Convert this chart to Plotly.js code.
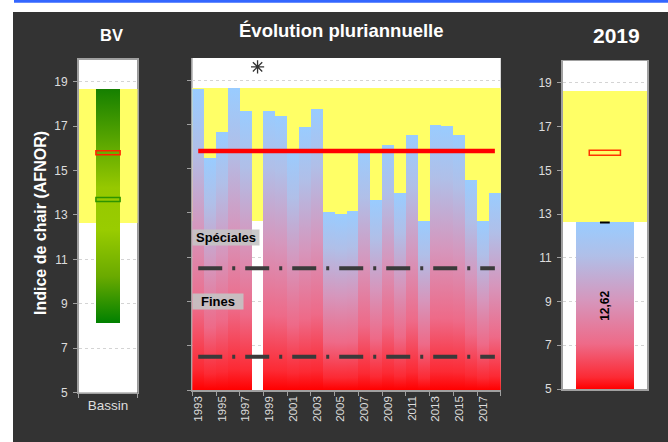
<!DOCTYPE html>
<html><head><meta charset="utf-8">
<script src="https://cdn.plot.ly/plotly-3.0.1.min.js"></script>
<style>html,body{margin:0;padding:0;background:#fff;}#chart{width:668px;height:442px;}</style>
</head><body><div id="chart"></div>
<script>
// ---- data ----
const years = ['1993','1994','1995','1996','1997','1998','1999','2000','2001','2002','2003','2004','2005','2006','2007','2008','2009','2010','2011','2012','2013','2014','2015','2016','2017','2018'];
const indexValues = [18.60,15.48,16.65,18.64,17.60,null,17.60,17.38,15.88,16.88,17.69,13.04,12.95,13.08,15.88,13.58,16.07,13.90,16.52,12.63,16.97,16.92,16.52,14.49,12.63,13.90];
const missingYears = ['1998'];
const missingMarkerValues = [19.6];
const meanValue = 15.8;
const thresholdValues = [10.5, 6.5];
const thresholdLabels = ['Spéciales', 'Fines'];
const thresholdLabelValues = [11.87, 9.0];
const bandRange = [12.62, 18.65];
const basinCategory = ['Bassin'];
const basinMin = [8.13];
const basinMax = [18.65];
const basinRef = [13.7];
const currentCategory = ['2019'];
const currentValue = [12.62];
const yTicks = [5,7,9,11,13,15,17,19];
const yFloor = 5;
const titles = {bv:'BV', evo:'Évolution pluriannuelle', cur:'2019', y:'Indice de chair (AFNOR)'};

// ---- helpers ----
const W = 668, H = 442;
const px = v => v / W;
const py = v => (H - v) / H;
const FONT = 'Liberation Sans, Arial, Helvetica, sans-serif';
const axisGray = '#a0a0a0';
const tickFont = {family: FONT, size: 12, color: '#dddddd'};
const bandColor = '#ffff66';

const bandBar = (cats, xa, ya) => ({type:'bar', x: cats, base: cats.map(()=>bandRange[0]),
  y: cats.map(()=>bandRange[1]-bandRange[0]), width:1, marker:{color:bandColor, line:{width:0}},
  xaxis:xa, yaxis:ya, hoverinfo:'skip'});

const data = [
  // yellow bands
  bandBar(basinCategory, 'x', 'y'),
  bandBar(years, 'x2', 'y2'),
  bandBar(currentCategory, 'x3', 'y3'),
  // BV range bar
  {type:'bar', x: basinCategory, base: basinMin, y: basinMax.map((v,i)=>v-basinMin[i]), width:0.41,
   marker:{color:'rgb(122,184,1)', line:{width:0}}, xaxis:'x', yaxis:'y', meta:'gradG', hoverinfo:'skip'},
  // BV mean rect
  {type:'bar', x: basinCategory, base:[meanValue-0.09], y:[0.18], width:0.41,
   marker:{color:'rgba(0,0,0,0)', line:{color:'#ff2200', width:1.5}}, xaxis:'x', yaxis:'y', hoverinfo:'skip'},
  // BV reference rect
  {type:'bar', x: basinCategory, base: basinRef.map(v=>v-0.09), y:[0.18], width:0.41,
   marker:{color:'rgba(0,0,0,0)', line:{color:'#2e9400', width:1.5}}, xaxis:'x', yaxis:'y', hoverinfo:'skip'},
  // yearly bars
  {type:'bar', x: years, base: yFloor, y: indexValues.map(v => v==null ? null : v - yFloor), width:1,
   marker:{color:'rgb(153,204,254)', line:{width:0}}, xaxis:'x2', yaxis:'y2', meta:'gradRB', hoverinfo:'skip'},
  // threshold lines
  ...thresholdValues.map(t => ({type:'scatter', mode:'lines', x:[years[0], years[years.length-1]], y:[t,t],
   line:{color:'#3a3a3a', width:4, dash:'24px,10px,3px,10px'}, xaxis:'x2', yaxis:'y2', hoverinfo:'skip'})),
  // mean line
  {type:'scatter', mode:'lines', x:[years[0], years[years.length-1]], y:[meanValue, meanValue],
   line:{color:'#ff0000', width:4.5}, xaxis:'x2', yaxis:'y2', hoverinfo:'skip'},
  // missing year marker
  {type:'scatter', mode:'markers', x: missingYears, y: missingMarkerValues,
   marker:{symbol:'asterisk-open', size:11, color:'#333333', line:{color:'#333333', width:1.3}}, xaxis:'x2', yaxis:'y2', hoverinfo:'skip'},
  // current bar
  {type:'bar', x: currentCategory, base: yFloor, y: currentValue.map(v=>v-yFloor), width:0.69,
   text: currentValue.map(v=>v.toFixed(2).replace('.', ',')), textposition:'inside', insidetextanchor:'middle',
   textangle:-90, constraintext:'none', textfont:{family:FONT, size:12, color:'#000000', weight:'bold'},
   marker:{color:'rgb(153,204,253)', line:{width:0}}, xaxis:'x3', yaxis:'y3', meta:'gradRB', hoverinfo:'skip'},
  // current value tick
  {type:'scatter', mode:'markers', x: currentCategory, y: currentValue,
   marker:{symbol:'line-ew', size:7, line:{color:'#000000', width:2}}, xaxis:'x3', yaxis:'y3', hoverinfo:'skip'},
  // current mean rect
  {type:'bar', x: currentCategory, base:[meanValue-0.115], y:[0.23], width:0.37,
   marker:{color:'rgba(0,0,0,0)', line:{color:'#ff3300', width:1.5}}, xaxis:'x3', yaxis:'y3', hoverinfo:'skip'}
];

const yCommon = {range:[5,20], tickvals:yTicks, ticks:'outside', ticklen:4, tickcolor:axisGray, tickwidth:1,
  showline:true, linecolor:axisGray, linewidth:1.5, showgrid:true, gridcolor:'#d4d4d4', griddash:'dot', gridwidth:1,
  zeroline:false, tickfont:tickFont, ticklabelstandoff:3, fixedrange:true};

const layout = {
  width:W, height:H, margin:{l:0,r:0,t:0,b:0}, paper_bgcolor:'#333333', plot_bgcolor:'#ffffff',
  showlegend:false, barmode:'overlay', bargap:0, font:{family:FONT, color:'#dddddd'},
  xaxis:{domain:[px(78.5), px(137.5)], type:'category', range:[-0.5,0.5], tickson:'boundaries', ticks:'outside', ticklen:4,
    tickcolor:axisGray, showline:true, linecolor:axisGray, linewidth:1.5, mirror:true, showgrid:false,
    tickfont:{family:FONT, size:13.5, color:'#dddddd'}, anchor:'y', fixedrange:true},
  yaxis:Object.assign({}, yCommon, {domain:[py(392.7), py(59.5)], anchor:'x', mirror:true}),
  xaxis2:{domain:[px(192.3), px(500.8)], type:'category', range:[-0.5,25.5], tickson:'boundaries', tickmode:'linear', tick0:0, dtick:2,
    ticks:'outside', ticklen:4, tickcolor:axisGray, tickangle:-90, showline:true, linecolor:axisGray, linewidth:1.5, showgrid:false,
    tickfont:{family:FONT, size:11.5, color:'#dddddd'}, anchor:'y2', fixedrange:true},
  yaxis2:Object.assign({}, yCommon, {domain:[py(390), py(58)], anchor:'x2', showticklabels:false}),
  xaxis3:{domain:[px(562.7), px(647)], type:'category', range:[-0.5,0.5], showticklabels:false, ticks:'',
    showline:true, linecolor:axisGray, linewidth:1.5, mirror:true, showgrid:false, anchor:'y3', fixedrange:true},
  yaxis3:Object.assign({}, yCommon, {domain:[py(389), py(61)], anchor:'x3', mirror:true}),
  shapes:[
    {type:'rect', xref:'paper', yref:'paper', x0:0, x1:px(13), y0:0, y1:1, fillcolor:'#ffffff', line:{width:0}},
    {type:'rect', xref:'paper', yref:'paper', x0:0, x1:1, y0:py(12), y1:1, fillcolor:'#ffffff', line:{width:0}},
    {type:'rect', xref:'paper', yref:'paper', x0:px(14), x1:1, y0:py(2.7), y1:1, fillcolor:'#3366ff', line:{width:0}}
  ],
  annotations:[
    {xref:'paper', yref:'paper', x:px(111), y:py(35), text:titles.bv, showarrow:false, xanchor:'center', yanchor:'middle',
     font:{family:FONT, size:16.5, color:'#ffffff', weight:'bold'}},
    {xref:'paper', yref:'paper', x:px(341), y:py(31), text:titles.evo, showarrow:false, xanchor:'center', yanchor:'middle',
     font:{family:FONT, size:18.5, color:'#ffffff', weight:'bold'}},
    {xref:'paper', yref:'paper', x:px(616), y:py(35), text:titles.cur, showarrow:false, xanchor:'center', yanchor:'middle',
     font:{family:FONT, size:21, color:'#ffffff', weight:'bold'}},
    {xref:'paper', yref:'paper', x:px(40), y:py(223), text:titles.y, showarrow:false, xanchor:'center', yanchor:'middle', textangle:-90,
     font:{family:FONT, size:16, color:'#ffffff', weight:'bold'}},
    {xref:'paper', yref:'y2', x:px(192.3), y:thresholdLabelValues[0], text:thresholdLabels[0], showarrow:false, xanchor:'left', yanchor:'middle',
     width:66, align:'center', bgcolor:'rgba(196,196,196,0.9)', borderpad:0, font:{family:FONT, size:13, color:'#000000', weight:'bold'}},
    {xref:'paper', yref:'y2', x:px(192.3), y:thresholdLabelValues[1], text:thresholdLabels[1], showarrow:false, xanchor:'left', yanchor:'middle',
     width:50, align:'center', bgcolor:'rgba(196,196,196,0.9)', borderpad:0, font:{family:FONT, size:13, color:'#000000', weight:'bold'}}
  ]
};

const gradients = {
  gradRB: [[0,'#99ccff'],[0.2,'#b0bfe8'],[0.47,'#d696bc'],[0.73,'#ee6a88'],[0.93,'#fc2a34'],[1,'#ff0000']],
  gradG: [[0,'#168000'],[0.42,'#96c800'],[0.6,'#99cc00'],[0.8,'#6aaa00'],[1,'#008000']]
};
const colorToGrad = {'rgb(153, 204, 254)':'gradRB', 'rgb(153, 204, 253)':'gradRB', 'rgb(122, 184, 1)':'gradG'};

function applyGradients(gd){
  const ns = 'http://www.w3.org/2000/svg';
  const svg = gd.querySelector('svg.main-svg');
  const defs = document.createElementNS(ns, 'defs');
  svg.insertBefore(defs, svg.firstChild);
  Object.keys(gradients).forEach(id => {
    const g = document.createElementNS(ns, 'linearGradient');
    g.setAttribute('id', id); g.setAttribute('x1','0'); g.setAttribute('y1','0'); g.setAttribute('x2','0'); g.setAttribute('y2','1');
    gradients[id].forEach(([o,c]) => { const s = document.createElementNS(ns,'stop'); s.setAttribute('offset', o); s.setAttribute('stop-color', c); g.appendChild(s); });
    defs.appendChild(g);
  });
  gd.querySelectorAll('.barlayer .trace').forEach(tr => {
    let id = null;
    const cd = tr.__data__;
    if (cd && cd[0] && cd[0].trace && gradients[cd[0].trace.meta]) id = cd[0].trace.meta;
    tr.querySelectorAll('.point path').forEach(p => {
      const gid = id || colorToGrad[p.style.fill];
      if (gid) p.style.setProperty('fill', 'url(#' + gid + ')');
    });
  });
}

const gd = document.getElementById('chart');
Plotly.newPlot(gd, data, layout, {staticPlot:true, displayModeBar:false, responsive:false}).then(applyGradients);
</script>
</body></html>
